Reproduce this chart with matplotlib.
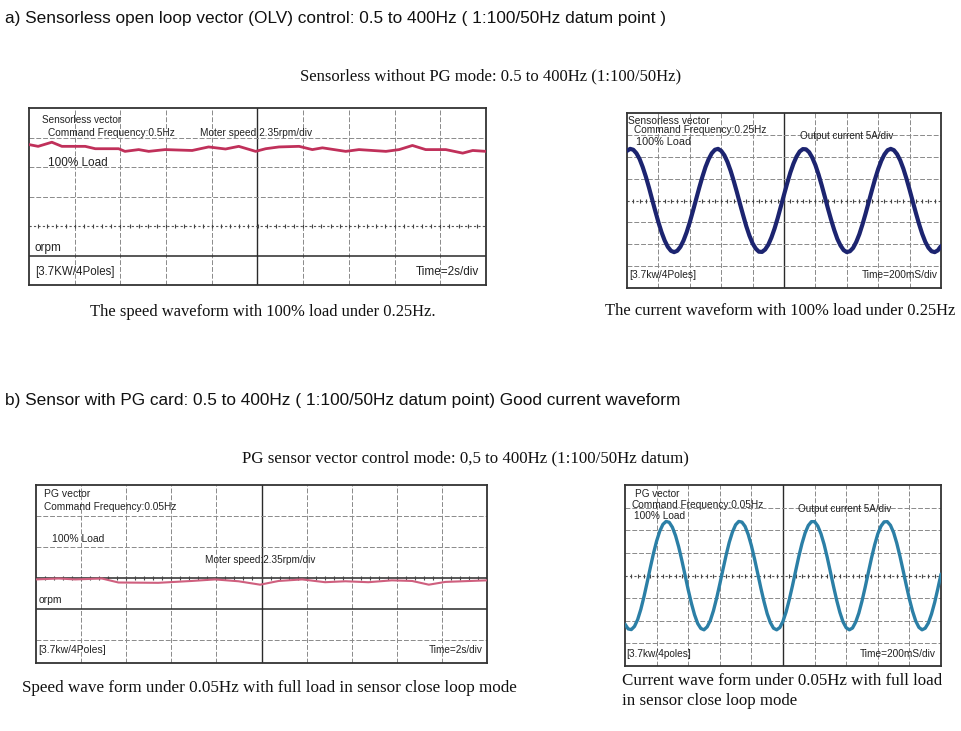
import numpy as np
import matplotlib.pyplot as plt

plt.rcParams['font.family'] = ['Liberation Sans', 'DejaVu Sans']

W, H = 962, 731

# ---------- DADOS (em divisoes do osciloscopio) ----------
# a) velocidade sem sensor, 0.25Hz
spd_a_t = [0, 0.2, 0.5, 0.72, 1.23, 1.45, 1.96, 2.1, 2.4, 2.62, 2.98, 3.57, 3.93, 4.3, 4.59, 4.96,
           5.18, 5.47, 5.91, 6.2, 6.42, 6.93, 7.22, 7.81, 8.1, 8.39, 8.68, 9.12, 9.49, 9.71, 10.0]
spd_a_v = [4.76, 4.70, 4.84, 4.70, 4.70, 4.62, 4.62, 4.53, 4.59, 4.53, 4.59, 4.56, 4.68, 4.61, 4.70, 4.53,
           4.62, 4.68, 4.70, 4.59, 4.65, 4.53, 4.59, 4.53, 4.59, 4.73, 4.59, 4.59, 4.47, 4.56, 4.53]

# a) corrente sem sensor, amostras a cada 0.1 div
cur_t = [i * 0.1 for i in range(101)]
cur_a = [2.27, 2.36, 2.32, 2.16, 1.90, 1.53, 1.09, 0.59, 0.05, -0.48,
         -0.99, -1.45, -1.83, -2.12, -2.30, -2.36, -2.30, -2.12, -1.83, -1.45,
         -0.99, -0.48, 0.05, 0.58, 1.08, 1.53, 1.89, 2.16, 2.32, 2.36,
         2.27, 2.07, 1.76, 1.36, 0.89, 0.38, -0.16, -0.68, -1.18, -1.61,
         -1.96, -2.20, -2.34, -2.35, -2.24, -2.02, -1.69, -1.28, -0.80, -0.27,
         0.26, 0.78, 1.27, 1.68, 2.01, 2.24, 2.35, 2.34, 2.21, 1.96,
         1.62, 1.19, 0.70, 0.17, -0.37, -0.88, -1.35, -1.76, -2.06, -2.27,
         -2.36, -2.32, -2.17, -1.90, -1.54, -1.09, -0.59, -0.06, 0.47, 0.98,
         1.44, 1.82, 2.11, 2.30, 2.36, 2.30, 2.12, 1.84, 1.46, 1.00,
         0.49, -0.04, -0.57, -1.07, -1.52, -1.89, -2.16, -2.32, -2.36, -2.28,
         -2.08]

# b) velocidade com PG, 0.05Hz
spd_b_t = [0, 0.5, 0.87, 1.46, 1.83, 2.71, 3.45, 3.97, 4.49, 4.97,
           5.38, 5.9, 6.41, 6.86, 7.37, 7.89, 8.34, 8.71, 9.08, 10.0]
spd_b_v = [1.95, 1.98, 1.95, 1.98, 1.85, 1.84, 1.90, 1.95, 1.89, 1.78,
           1.90, 1.95, 1.86, 1.89, 1.86, 1.92, 1.90, 1.78, 1.87, 1.92]

# b) corrente com PG
cur_b = [-2.15, -2.36, -2.39, -2.25, -1.95, -1.50, -0.94, -0.31, 0.34, 0.97,
         1.52, 1.96, 2.26, 2.39, 2.35, 2.13, 1.76, 1.26, 0.66, 0.02,
         -0.63, -1.22, -1.73, -2.12, -2.34, -2.40, -2.27, -1.99, -1.55, -1.00,
         -0.38, 0.27, 0.90, 1.47, 1.92, 2.24, 2.39, 2.36, 2.17, 1.81,
         1.32, 0.73, 0.09, -0.56, -1.16, -1.69, -2.08, -2.33, -2.40, -2.30,
         -2.02, -1.60, -1.06, -0.45, 0.20, 0.84, 1.41, 1.88, 2.21, 2.38,
         2.38, 2.19, 1.85, 1.38, 0.80, 0.16, -0.49, -1.10, -1.63, -2.05,
         -2.31, -2.40, -2.32, -2.06, -1.66, -1.13, -0.52, 0.13, 0.77, 1.35,
         1.84, 2.18, 2.37, 2.38, 2.22, 1.90, 1.43, 0.86, 0.23, -0.42,
         -1.04, -1.58, -2.01, -2.29, -2.40, -2.33, -2.10, -1.70, -1.19, -0.58,
         0.06]

GRID = '#8a8a8a'
DARK = '#2a2a2a'
TXT = '#222222'

fig = plt.figure(figsize=(W / 100, H / 100), dpi=100)


def px_rect(x0, y0, x1, y1):
    return [x0 / W, 1 - y1 / H, (x1 - x0) / W, (y1 - y0) / H]


def tela(rect, ylim, hgrid, dark_lines, tick_line):
    ax = fig.add_axes(px_rect(*rect))
    ax.set_xlim(0, 10)
    ax.set_ylim(*ylim)
    ax.set_xticks([])
    ax.set_yticks([])
    for s in ax.spines.values():
        s.set_color('#333333')
        s.set_linewidth(1.3)
    for x in range(1, 10):
        if x == 5:
            ax.axvline(x, color=DARK, lw=1.0, zorder=1)
        else:
            ax.axvline(x, color=GRID, lw=0.7, ls=(0, (5, 2)), zorder=1)
    for y in hgrid:
        if y in dark_lines:
            ax.axhline(y, color=DARK, lw=1.1, zorder=1)
        elif y == tick_line:
            ax.axhline(y, color='#555555', lw=0.8, ls=(0, (2, 2)), zorder=1)
        else:
            ax.axhline(y, color=GRID, lw=0.7, ls=(0, (5, 2)), zorder=1)
    # marcas pequenas na linha central
    mk = np.arange(0.2, 10, 0.2)
    ax.plot(mk, [tick_line] * len(mk), ls='none', marker='|', ms=3.5, mew=0.8,
            color='#444444', zorder=1)
    return ax


# ---------- a) velocidade ----------
ax1 = tela((29, 108, 486, 285), (0, 6), [1, 2, 3, 4, 5], [1], 2)
ax1.plot(spd_a_t, spd_a_v, color='#c0305a', lw=2.0, zorder=3)
ax1.text(0.28, 5.6, 'Sensorless vector', fontsize=7.2, color=TXT, va='center')
ax1.text(0.42, 5.15, 'Command Frequency:0.5Hz', fontsize=7.3, color=TXT, va='center')
ax1.text(3.75, 5.15, 'Moter speed 2.35rpm/div', fontsize=7.3, color=TXT, va='center')
ax1.text(0.42, 4.15, '100% Load', fontsize=8.5, color=TXT, va='center')
ax1.text(0.13, 1.24, 'orpm', fontsize=8.5, color=TXT, va='center')
ax1.text(0.13, 0.45, '[3.7KW/4Poles]', fontsize=8.3, color=TXT, va='center')
ax1.text(9.85, 0.45, 'Time=2s/div', fontsize=8.5, color=TXT, va='center', ha='right')

# ---------- a) corrente ----------
ax2 = tela((627, 113, 941, 288), (-4, 4), [-3, -2, -1, 0, 1, 2, 3], [], 0)
ax2.plot(cur_t, cur_a, color='#1c2470', lw=3.0, zorder=3, solid_capstyle='round')
ax2.text(0.04, 3.65, 'Sensorless vector', fontsize=7.4, color=TXT, va='center')
ax2.text(0.23, 3.22, 'Command Frequency:0.25Hz', fontsize=7.3, color=TXT, va='center')
ax2.text(0.28, 2.69, '100% Load', fontsize=7.8, color=TXT, va='center')
ax2.text(5.51, 2.95, 'Output current 5A/div', fontsize=7.1, color=TXT, va='center')
ax2.text(0.06, -3.4, '[3.7kw/4Poles]', fontsize=7.4, color=TXT, va='center')
ax2.text(9.9, -3.4, 'Time=200mS/div', fontsize=7.3, color=TXT, va='center', ha='right')

# ---------- b) velocidade ----------
ax3 = tela((36, 485, 487, 663), (-0.75, 5.0), [0, 1, 2, 3, 4], [1, 2], 2)
ax3.plot(spd_b_t, spd_b_v, color='#cf5f7e', lw=1.5, zorder=3)
ax3.text(0.18, 4.71, 'PG vector', fontsize=7.5, color=TXT, va='center')
ax3.text(0.18, 4.30, 'Command Frequency:0.05Hz', fontsize=7.3, color=TXT, va='center')
ax3.text(0.35, 3.25, '100% Load', fontsize=7.5, color=TXT, va='center')
ax3.text(3.75, 2.58, 'Moter speed:2.35rpm/div', fontsize=7.2, color=TXT, va='center')
ax3.text(0.05, 1.3, 'orpm', fontsize=7.5, color=TXT, va='center')
ax3.text(0.04, -0.32, '[3.7kw/4Poles]', fontsize=7.5, color=TXT, va='center')
ax3.text(9.9, -0.32, 'Time=2s/div', fontsize=7.2, color=TXT, va='center', ha='right')

# ---------- b) corrente ----------
ax4 = tela((625, 485, 941, 666), (-4, 4), [-3, -2, -1, 0, 1, 2, 3], [], 0)
ax4.plot(cur_t, cur_b, color='#2b7fa6', lw=2.4, zorder=3, solid_capstyle='round')
ax4.text(0.32, 3.6, 'PG vector', fontsize=7.2, color=TXT, va='center')
ax4.text(0.21, 3.12, 'Command.Frequency:0.05Hz', fontsize=7.3, color=TXT, va='center')
ax4.text(0.29, 2.63, '100% Load', fontsize=7.3, color=TXT, va='center')
ax4.text(5.48, 2.93, 'Output current 5A/div', fontsize=7.1, color=TXT, va='center')
ax4.text(0.05, -3.45, '[3.7kw/4poles]', fontsize=7.3, color=TXT, va='center')
ax4.text(9.83, -3.45, 'Time=200mS/div', fontsize=7.3, color=TXT, va='center', ha='right')

# ---------- TITULOS E LEGENDAS ----------
def ftext(x, y, s, **kw):
    fig.text(x / W, 1 - y / H, s, va='center', color='#111111', **kw)


ftext(5, 18, 'a) Sensorless open loop vector (OLV) control: 0.5 to 400Hz ( 1:100/50Hz datum point )',
      fontsize=12.4)
ftext(5, 400, 'b) Sensor with PG card: 0.5 to 400Hz ( 1:100/50Hz datum point) Good current waveform',
      fontsize=12.4)

serif = ['Liberation Serif', 'DejaVu Serif']
ftext(491, 76, 'Sensorless without PG mode: 0.5 to 400Hz (1:100/50Hz)', fontsize=12.0,
      ha='center', family=serif)
ftext(263, 312, 'The speed waveform with 100% load under 0.25Hz.', fontsize=11.9,
      ha='center', family=serif)
ftext(780, 311, 'The current waveform with 100% load under 0.25Hz', fontsize=11.9,
      ha='center', family=serif)
ftext(465, 458, 'PG sensor vector control mode: 0,5 to 400Hz (1:100/50Hz datum)', fontsize=12.2,
      ha='center', family=serif)
ftext(22, 688, 'Speed wave form under 0.05Hz with full load in sensor close loop mode',
      fontsize=12.3, family=serif)
ftext(622, 681, 'Current wave form under 0.05Hz with full load', fontsize=12.2, family=serif)
ftext(622, 701, 'in sensor close loop mode', fontsize=12.2, family=serif)

plt.savefig('out.png', dpi=100)
